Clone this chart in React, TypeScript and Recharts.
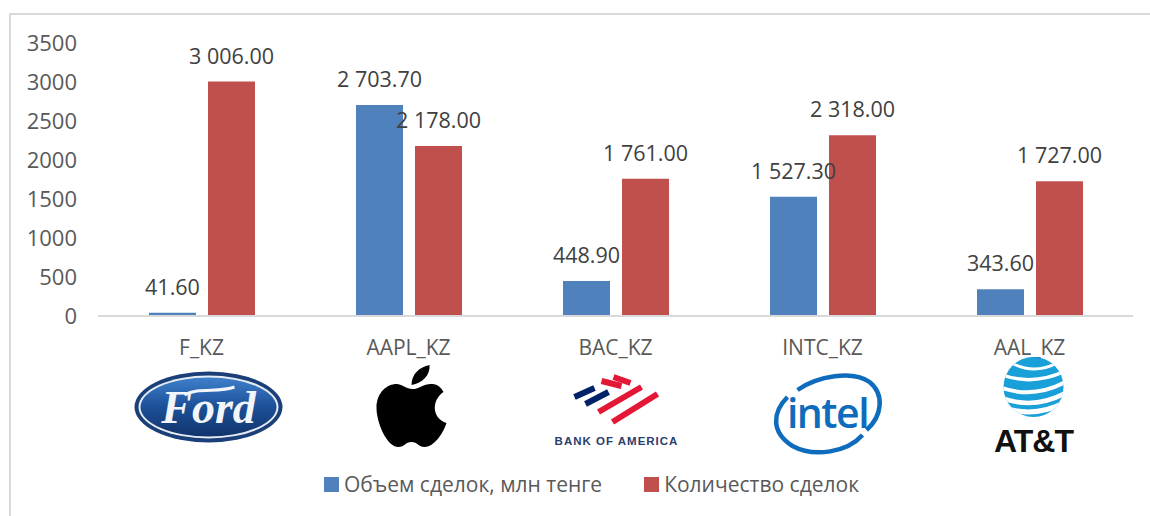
import { BarChart, Bar, XAxis, YAxis, Legend, LabelList } from "recharts";

const categories = ["F_KZ", "AAPL_KZ", "BAC_KZ", "INTC_KZ", "AAL_KZ"];
const volume = [41.6, 2703.7, 448.9, 1527.3, 343.6];
const deals = [3006, 2178, 1761, 2318, 1727];
const yTicks = [0, 500, 1000, 1500, 2000, 2500, 3000, 3500];

const BLUE = "#4f81bd";
const RED = "#c0504d";
const TEXT = "#404040";
const AXIS_TEXT = "#595959";
const FONT = '"Open Sans", sans-serif';

const chartData = categories.map((name, i) => ({
  name,
  volume: volume[i],
  deals: deals[i],
}));

// "3 006.00" style, nbsp as the thousands separator so the label stays on one line
function fmt(v: number) {
  const [whole, dec] = v.toFixed(2).split(".");
  return `${whole.replace(/\B(?=(\d{3})+$)/g, "\u00A0")}.${dec}`;
}

function FordLogo() {
  return (
    <g transform="translate(7 83)">
      <defs>
        <linearGradient id="fordFill" x1="0" y1="0" x2="0" y2="1">
          <stop offset="0" stopColor="#3f80cc" />
          <stop offset="0.5" stopColor="#1c4f97" />
          <stop offset="1" stopColor="#12346c" />
        </linearGradient>
      </defs>
      <ellipse rx={74} ry={35.5} fill="#1b3f78" />
      <ellipse rx={70} ry={31.5} fill="#e6edf5" />
      <ellipse rx={68} ry={29.5} fill="url(#fordFill)" />
      <path d="M-24 -12 C-10 -20 10 -14 26 -20" fill="none" stroke="#f2f5f9" strokeWidth={3} />
      <text
        x={0}
        y={16}
        textAnchor="middle"
        fontFamily='"Liberation Serif", serif'
        fontStyle="italic"
        fontWeight={700}
        fontSize={46}
        fill="#f2f5f9"
      >
        Ford
      </text>
    </g>
  );
}

function AppleLogo() {
  return (
    <g transform="translate(3 82)" fill="#000">
      <path d="M0 -21 C0 -32 8 -39 18 -41 C19 -31 11 -23 0 -21 Z" />
      <path d="M1 -17 C8 -17 13 -23 21 -22 C26 -22 30 -18 32 -14 C20 -6 20 12 35 17 C31 29 22 41 13 41 C7 41 6 36 0 36 C-6 36 -7 41 -13 41 C-25 41 -35 16 -35 2 C-35 -14 -24 -22 -15 -22 C-10 -22 -5 -17 1 -17 Z" />
    </g>
  );
}

function BofaLogo() {
  return (
    <g>
      <g fill="none" stroke="#e31837" strokeWidth={6}>
        <path d="M-2 53 L15 59" />
        <path d="M-14 57 L6 62" />
        <path d="M-17 88 L26 63" />
        <path d="M-3 98 L42 70" />
      </g>
      <g fill="none" stroke="#012169" strokeWidth={6}>
        <path d="M-41 73 L-21 64" />
        <path d="M-30 80 L-7 68" />
      </g>
      <text
        x={1}
        y={121}
        textAnchor="middle"
        fontFamily='"Liberation Sans", sans-serif'
        fontWeight={700}
        fontSize={11.5}
        letterSpacing={1}
        fill="#2a3d6b"
      >
        BANK OF AMERICA
      </text>
    </g>
  );
}

function IntelLogo() {
  return (
    <g>
      <g fill="none" stroke="#0f6cbd" strokeWidth={4.5}>
        <path d="M-35 73 C-50 88 -52 108 -30 122 C-8 134 25 128 40 111" />
        <path d="M-25 66 C-5 52 30 46 47 58 C62 70 60 92 44 106" />
      </g>
      <text
        x={5}
        y={104}
        textAnchor="middle"
        fontFamily='"Open Sans", sans-serif'
        fontWeight={600}
        fontSize={41}
        letterSpacing={-1.5}
        fill="#0f6cbd"
      >
        intel
      </text>
    </g>
  );
}

function AttLogo() {
  return (
    <g transform="translate(4 63)">
      <clipPath id="attGlobe">
        <circle r={30} />
      </clipPath>
      <circle r={30} fill="#19a0d8" />
      <g clipPath="url(#attGlobe)" fill="none" stroke="#fff">
        <path d="M-22 -24 Q0 -12 24 -24" strokeWidth={3} />
        <path d="M-34 -13 Q0 0 34 -17" strokeWidth={3.5} />
        <path d="M-34 0 Q0 13 34 -6" strokeWidth={4} />
        <path d="M-34 10 Q0 24 34 5" strokeWidth={4.5} />
        <path d="M-34 19 Q0 33 34 14" strokeWidth={5} />
      </g>
      <text
        x={0}
        y={65}
        textAnchor="middle"
        fontFamily='"Liberation Sans", sans-serif'
        fontWeight={700}
        fontSize={32}
        letterSpacing={-1}
        fill="#111"
      >
        AT&amp;T
      </text>
    </g>
  );
}

const logos = [FordLogo, AppleLogo, BofaLogo, IntelLogo, AttLogo];

function LogoTick({ x, y, payload, index }: any) {
  const Logo = logos[index];
  return (
    <g transform={`translate(${x} ${y})`}>
      <text x={0} y={31} textAnchor="middle" fontFamily={FONT} fontSize={21} fill={AXIS_TEXT}>
        {payload.value}
      </text>
      {Logo ? <Logo /> : null}
    </g>
  );
}

function LegendRow() {
  const items = [
    { label: "Объем сделок, млн тенге", color: BLUE },
    { label: "Количество сделок", color: RED },
  ];
  return (
    <div
      style={{
        display: "flex",
        justifyContent: "center",
        gap: 42,
        paddingTop: 4,
        marginLeft: 50,
        fontFamily: FONT,
        fontSize: 21,
        color: AXIS_TEXT,
      }}
    >
      {items.map((it) => (
        <span key={it.label} style={{ display: "flex", alignItems: "center", gap: 5 }}>
          <span style={{ width: 15, height: 15, background: it.color, display: "inline-block" }} />
          {it.label}
        </span>
      ))}
    </div>
  );
}

export default function App() {
  return (
    <div style={{ position: "absolute", left: 0, top: 0, width: 1150, height: 516, background: "#fff", overflow: "hidden" }}>
      <div style={{ position: "absolute", left: 9, top: 13, width: 1150, height: 520, border: "2px solid #d9d9d9" }} />
      <BarChart
        width={1150}
        height={516}
        data={chartData}
        margin={{ top: 43, right: 17, bottom: 0, left: 0 }}
        barSize={47}
        barGap={12}
      >
        <XAxis
          dataKey="name"
          height={150}
          interval={0}
          tickLine={false}
          axisLine={{ stroke: "#d9d9d9", strokeWidth: 2 }}
          tick={<LogoTick />}
        />
        <YAxis
          width={98}
          domain={[0, 3500]}
          ticks={yTicks}
          interval={0}
          axisLine={false}
          tickLine={false}
          tickMargin={15}
          tick={{ fontFamily: FONT, fontSize: 22, fill: AXIS_TEXT }}
        />
        <Legend verticalAlign="bottom" height={50} content={<LegendRow />} />
        <Bar dataKey="volume" fill={BLUE} isAnimationActive={false}>
          <LabelList dataKey="volume" position="top" offset={18} formatter={fmt} style={{ fontFamily: FONT, fontSize: 21.5, fill: TEXT }} />
        </Bar>
        <Bar dataKey="deals" fill={RED} isAnimationActive={false}>
          <LabelList dataKey="deals" position="top" offset={18} formatter={fmt} style={{ fontFamily: FONT, fontSize: 21.5, fill: TEXT }} />
        </Bar>
      </BarChart>
    </div>
  );
}
